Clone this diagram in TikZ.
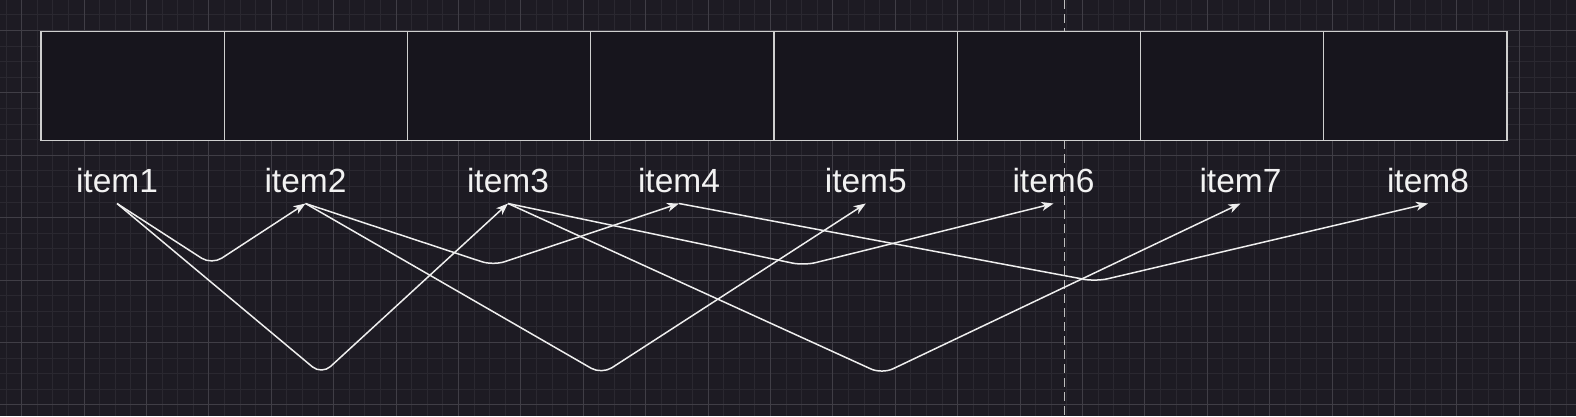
\documentclass[tikz,border=0pt]{standalone}
\usepackage{fontspec}
\setmainfont{Liberation Sans}
\usetikzlibrary{arrows.meta}

\definecolor{canvas}{HTML}{1D1B23}
\definecolor{gridminor}{HTML}{2A2830}
\definecolor{gridmajor}{HTML}{403E46}
\definecolor{guideline}{HTML}{BDBDBD}
\definecolor{cellline}{HTML}{CFCFCF}
\definecolor{cellfill}{HTML}{17151D}
\definecolor{labeltext}{HTML}{F2F2F2}
\definecolor{linkline}{HTML}{EEEEEE}

\begin{document}
\begin{tikzpicture}[x=1pt, y=-1pt, font=\fontsize{33.5}{40}\selectfont]
        \tikzset{
            minorgrid/.style={draw=gridminor, line width=1pt},
            majorgrid/.style={draw=gridmajor, line width=1pt},
            guide/.style={draw=guideline, line width=1.5pt, dash pattern=on 9pt off 5pt},
            cellbox/.style={
                draw=cellline,
                fill=cellfill,
                line width=1.3pt,
                anchor=north west,
                minimum width=183.25pt,
                minimum height=109pt,
                inner sep=0pt,
                outer sep=0pt
            },
            itemlabel/.style={text=labeltext, anchor=base, inner xsep=0pt, inner ysep=10.6pt, text depth=0pt},
            link/.style={
                draw=linkline,
                line width=1.5pt,
                rounded corners=12pt,
                -{Stealth[length=12pt, width=9pt, inset=3.5pt]}
            }
        }

        % background and grid
        \useasboundingbox[fill=canvas] (0,0) rectangle (1576,416);
        \foreach \k in {-1,...,99}
            \draw[minorgrid] ({21.7+15.6*\k},0) -- ({21.7+15.6*\k},416);
        \foreach \k in {-1,...,24}
            \draw[minorgrid] (0,{30.5+15.6*\k}) -- (1576,{30.5+15.6*\k});
        \foreach \k in {0,...,24}
            \draw[majorgrid] ({21.7+62.4*\k},0) -- ({21.7+62.4*\k},416);
        \foreach \k in {0,...,6}
            \draw[majorgrid] (0,{30.5+62.4*\k}) -- (1576,{30.5+62.4*\k});

        \coordinate (guidetop) at (1064.7,0);
        \coordinate (guidebottom) at (1064.7,416);
        \draw[guide] (guidetop) -- (guidebottom);

        % array cells
        \foreach \i in {1,...,8}
            \node[cellbox] (cell\i) at ({41+183.25*(\i-1)},31.7) {};

        % labels
        \foreach \i/\x in {1/117, 2/305.5, 3/508, 4/679, 5/865.8, 6/1053.5, 7/1240.5, 8/1428}
            \node[itemlabel] (item\i) at (\x,192.7) {item\i};

        % bends
        \coordinate (bend12) at (211.7,264.7);
        \coordinate (bend13) at (321.7,374.6);
        \coordinate (bend24) at (493.3,265.5);
        \coordinate (bend25) at (601.7,374.3);
        \coordinate (bend36) at (804,265.5);
        \coordinate (bend37) at (882,374);
        \coordinate (bend48) at (1096,281.5);

        \draw[link] (item1.south) -- (bend12) -- (item2.south);
        \draw[link] (item1.south) -- (bend13) -- (item3.south);
        \draw[link] (item2.south) -- (bend24) -- (item4.south);
        \draw[link] (item2.south) -- (bend25) -- (item5.south);
        \draw[link] (item3.south) -- (bend36) -- (item6.south);
        \draw[link] (item3.south) -- (bend37) -- (item7.south);
        \draw[link] (item4.south) -- (bend48) -- (item8.south);
    \end{tikzpicture}
\end{document}
